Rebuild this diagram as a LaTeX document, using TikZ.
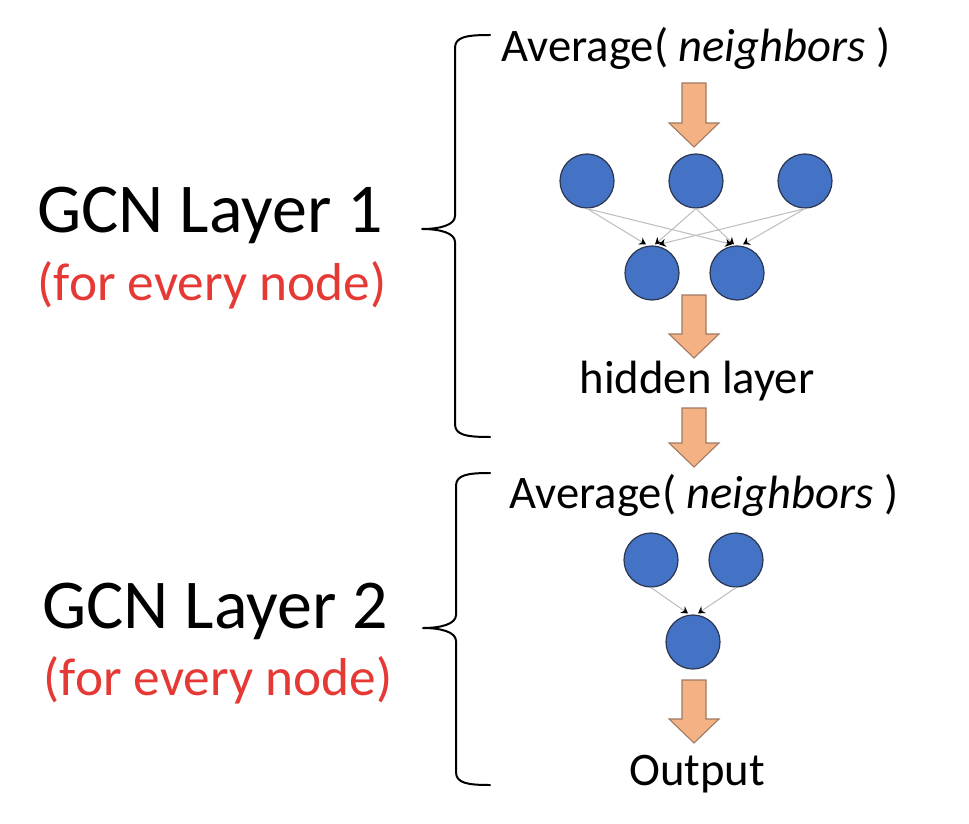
\documentclass[tikz,border=0pt]{standalone}
\usepackage{fontspec}
\setmainfont{Carlito}
\usetikzlibrary{arrows.meta}
\definecolor{nodeblue}{HTML}{4472C4}
\definecolor{nodeedge}{HTML}{2B3650}
\definecolor{arrowfill}{HTML}{F4B183}
\definecolor{arrowedge}{HTML}{9C7A64}
\definecolor{redtext}{HTML}{E53935}
\definecolor{linkgray}{HTML}{BFBFBF}
\newcommand{\downblock}[3]{%
  \draw[blockarrow] (#1-12,#2) -- (#1+12,#2) -- (#1+12,#3-24) -- (#1+25,#3-24) -- (#1,#3) -- (#1-25,#3-24) -- (#1-12,#3-24) -- cycle;}
\begin{document}
\begin{tikzpicture}[x=0.75pt,y=-0.75pt,
  neuron/.style={circle, fill=nodeblue, draw=nodeedge, line width=0.9pt, minimum size=40.5pt, inner sep=0pt},
  link/.style={draw=linkgray, line width=0.8pt, -{Stealth[length=5pt,width=6pt,color=black]}},
  bigtitle/.style={font=\fontsize{52.5}{62}\selectfont, anchor=base, inner sep=0pt},
  subtitle/.style={text=redtext, font=\fontsize{40}{48}\selectfont, anchor=base, inner sep=0pt},
  caption/.style={font=\fontsize{35}{42}\selectfont, anchor=base, inner sep=0pt},
  brace/.style={line width=1.5pt, line join=round, line cap=round},
  blockarrow/.style={fill=arrowfill, draw=arrowedge, line width=0.8pt, line join=miter}
]
\useasboundingbox (0,0) rectangle (969,823);

% left titles
\node[bigtitle] (g1) at (210,233) {GCN Layer 1};
\node[subtitle] (s1) at (212,300) {(for every node)};
\node[bigtitle] (g2) at (215,628) {GCN Layer 2};
\node[subtitle] (s2) at (218,695) {(for every node)};

% braces
\draw[brace] (490,35) .. controls (466,35) and (455,37) .. (455,48) -- (455,216)
  .. controls (455,225) and (440,229) .. (422,229)
  .. controls (440,229) and (455,233) .. (455,242) -- (455,424)
  .. controls (455,435) and (466,437) .. (490,437);
\draw[brace] (490,473) .. controls (467,473) and (456,475) .. (456,486) -- (456,615)
  .. controls (456,624) and (441,628) .. (423,628)
  .. controls (441,628) and (456,632) .. (456,641) -- (456,772)
  .. controls (456,783) and (467,785) .. (490,785);

% layer 1
\node[caption] (avg1) at (696,62) {Average( \textit{neighbors} )};
\downblock{694}{83}{147}
\node[neuron] (t1) at (587,181) {};
\node[neuron] (t2) at (696,181) {};
\node[neuron] (t3) at (805,181) {};
\node[neuron] (b1) at (652,273) {};
\node[neuron] (b2) at (737,273) {};
\draw[link] (t1.south) -- ([shift={(-6,-1)}]b1.north);
\draw[link] (t2.south) -- ([shift={(3,-1)}]b1.north);
\draw[link] (t3.south) -- ([shift={(7,-1)}]b1.north);
\draw[link] (t1.south) -- ([shift={(-5,-1)}]b2.north);
\draw[link] (t2.south) -- ([shift={(-3,-1)}]b2.north);
\draw[link] (t3.south) -- ([shift={(6,-1)}]b2.north);
\downblock{694}{295}{358}
\node[caption] (hid) at (697,393) {hidden layer};
\downblock{694}{408}{467}

% layer 2
\node[caption] (avg2) at (704,508) {Average( \textit{neighbors} )};
\node[neuron] (u1) at (651,560) {};
\node[neuron] (u2) at (736,560) {};
\node[neuron] (v1) at (693,642) {};
\draw[link] (u1.south) -- ([shift={(-5,-1)}]v1.north);
\draw[link] (u2.south) -- ([shift={(5,-1)}]v1.north);
\downblock{694}{680}{743}
\node[caption] (out) at (697,785) {Output};
\end{tikzpicture}
\end{document}
